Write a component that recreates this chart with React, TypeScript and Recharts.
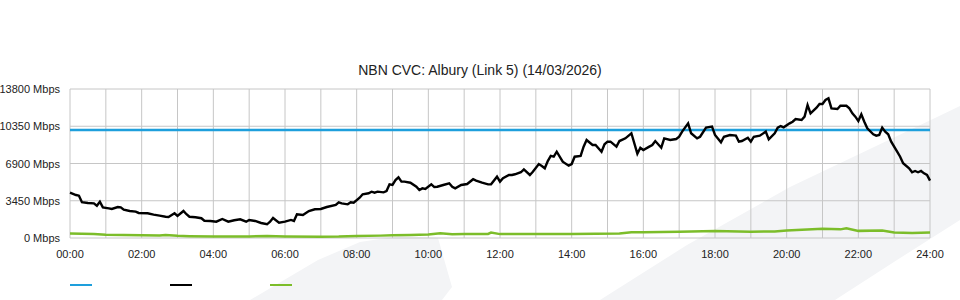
import React from 'react';
import { LineChart, Line, XAxis, YAxis, CartesianGrid } from 'recharts';

// minutes since midnight -> Mbps
const demandMinutes = [
  0, 10, 15, 20, 30, 40, 45, 50, 55, 65, 70, 80, 85, 90, 100, 110, 115, 130, 140, 150,
  160, 165, 175, 180, 190, 195, 200, 210, 220, 225, 235, 245, 255, 265, 275, 285, 295, 300, 310, 320,
  330, 335, 340, 350, 360, 370, 375, 380, 390, 400, 410, 420, 430, 445, 450, 455, 465, 470, 475, 485,
  490, 500, 505, 510, 515, 525, 530, 535, 540, 545, 550, 555, 560, 570, 580, 585, 590, 595, 605, 610,
  615, 625, 635, 640, 645, 655, 665, 675, 680, 690, 700, 705, 715, 720, 725, 735, 740, 745, 755, 760,
  770, 775, 785, 790, 795, 800, 805, 810, 815, 825, 835, 840, 845, 855, 860, 865, 875, 880, 890, 895,
  900, 905, 915, 920, 930, 940, 950, 955, 960, 970, 975, 980, 990, 995, 1005, 1015, 1020, 1025, 1035, 1040,
  1050, 1055, 1065, 1075, 1080, 1090, 1095, 1105, 1115, 1120, 1125, 1135, 1140, 1145, 1155, 1165, 1170, 1180, 1185, 1190,
  1195, 1205, 1210, 1215, 1225, 1230, 1235, 1240, 1250, 1255, 1260, 1265, 1270, 1275, 1285, 1290, 1300, 1305, 1310, 1315,
  1320, 1325, 1330, 1335, 1345, 1350, 1355, 1360, 1365, 1370, 1375, 1385, 1390, 1395, 1405, 1410, 1415, 1420, 1425, 1430,
  1435, 1440,
];
const demandMbps = [
  4200, 3980, 3920, 3310, 3240, 3210, 2990, 3360, 2840, 2750, 2690, 2870, 2840, 2620, 2500, 2440, 2320, 2290, 2160, 2070,
  1970, 1950, 2290, 2040, 2500, 2200, 1970, 1920, 1830, 1600, 1580, 1510, 1760, 1510, 1640, 1730, 1510, 1670, 1580, 1390,
  1270, 1510, 1850, 1420, 1510, 1670, 1580, 2200, 2130, 2500, 2660, 2690, 2870, 3060, 3310, 3210, 3120, 3310, 3270, 3730,
  4050, 4140, 4290, 4200, 4290, 4230, 4350, 4970, 4910, 5370, 5620, 5220, 5220, 5120, 4750, 4450, 4600, 4540, 4970, 4720,
  4750, 4910, 5070, 4750, 4600, 4910, 5000, 5440, 5310, 5120, 4970, 4970, 5680, 5220, 5530, 5840, 5840, 5900, 6090, 6360,
  5840, 6140, 6850, 6670, 6460, 7130, 7600, 7530, 7990, 7070, 6700, 6850, 7530, 7600, 8460, 9080, 8610, 8610, 7990, 8680,
  8920, 8920, 8460, 8980, 9230, 9700, 7810, 8360, 8150, 8460, 8610, 8980, 8360, 9230, 9080, 9170, 9380, 9850, 10620, 9700,
  9230, 9380, 10220, 10310, 9540, 8860, 9380, 9540, 9480, 8920, 8980, 9290, 8920, 9380, 9480, 9850, 9140, 9700, 10220, 10370,
  10250, 10620, 10770, 11020, 10930, 11240, 12320, 11550, 12070, 12410, 12410, 12780, 12940, 12010, 11950, 12250, 12250, 12010, 11550, 11240,
  10840, 11460, 10770, 10160, 9610, 9480, 9540, 10220, 9850, 9610, 8920, 7990, 7530, 6920, 6460, 6090, 6210, 6090, 6210, 5990,
  5840, 5310,
];

const uploadMinutes = [
  0, 20, 40, 60, 90, 120, 150, 160, 180, 200, 240, 300, 330, 360, 420, 450, 480, 520, 540, 570,
  600, 620, 640, 660, 700, 705, 720, 780, 840, 880, 920, 940, 960, 1020, 1080, 1140, 1180, 1200, 1260, 1290,
  1300, 1320, 1360, 1380, 1410, 1440,
];
const uploadMbps = [
  420, 400, 370, 300, 280, 250, 230, 280, 200, 170, 150, 150, 180, 140, 120, 130, 180, 220, 260, 280,
  320, 440, 340, 360, 370, 500, 360, 360, 380, 400, 420, 530, 540, 580, 640, 590, 600, 700, 860, 800,
  900, 660, 700, 500, 460, 500,
];

const capacityMinutes = [0, 1440];
const capacityMbps = [10000, 10000];

const hourTicks = [
  0, 60, 120, 180, 240, 300, 360, 420, 480, 540, 600, 660, 720, 780, 840, 900, 960, 1020, 1080, 1140,
  1200, 1260, 1320, 1380, 1440,
];
const yTicks = [0, 3450, 6900, 10350, 13800];

const demandData = demandMinutes.map((m, i) => ({ t: m, v: demandMbps[i] }));
const uploadData = uploadMinutes.map((m, i) => ({ t: m, v: uploadMbps[i] }));
const capacityData = capacityMinutes.map((m, i) => ({ t: m, v: capacityMbps[i] }));

const FONT = '"Liberation Sans", Arial, sans-serif';

const fmtTime = (m: number) => {
  if (m % 120 !== 0) return '';
  const h = m / 60;
  return `${h < 10 ? '0' : ''}${h}:00`;
};

// plain text tick so "13800 Mbps" doesn't get wrapped
const YTick = ({ x, y, payload }: any) => (
  <text x={x} y={y} dy={4} textAnchor="end" fill="#222" fontSize={11} fontFamily={FONT}>
    {`${payload.value} Mbps`}
  </text>
);

const App: React.FC = () => {
  return (
    <div style={{ position: 'absolute', left: 0, top: 0, width: 960, height: 300, fontFamily: FONT }}>
      {/* faint background swoosh */}
      <svg width={960} height={300} style={{ position: 'absolute', left: 0, top: 0 }}>
        <polygon points="250,300 318,260 360,242 400,236 438,238 452,287 442,300" fill="#f3f4f6" />
        <polygon points="600,300 687,245 790,187 935,118 960,106 960,220 897,260 835,300" fill="#f3f4f6" />
      </svg>

      <div
        style={{
          position: 'absolute', left: 0, top: 62, width: 960, textAlign: 'center',
          fontSize: 14, lineHeight: '16px', color: '#222',
        }}
      >
        NBN CVC: Albury (Link 5) (14/03/2026)
      </div>

      <div style={{ position: 'absolute', left: 0, top: 0 }}>
        <LineChart width={960} height={300} data={demandData} margin={{ top: 89, right: 30, bottom: 32, left: 8 }}>
          <CartesianGrid stroke="#c6c6c6" />
          <XAxis
            dataKey="t"
            type="number"
            domain={[0, 1440]}
            ticks={hourTicks}
            interval={0}
            tickFormatter={fmtTime}
            axisLine={false}
            tickLine={false}
            tickMargin={6}
            height={30}
            tick={{ fill: '#222', fontSize: 11, fontFamily: FONT }}
          />
          <YAxis
            type="number"
            domain={[0, 13800]}
            ticks={yTicks}
            interval={0}
            axisLine={false}
            tickLine={false}
            tickMargin={4}
            width={62}
            tick={<YTick />}
          />
          <Line data={capacityData} dataKey="v" stroke="#1e9fdc" strokeWidth={2.5} dot={false} isAnimationActive={false} />
          <Line data={uploadData} dataKey="v" stroke="#7cbd2a" strokeWidth={2.5} dot={false} isAnimationActive={false} />
          <Line data={demandData} dataKey="v" stroke="#000" strokeWidth={2.4} dot={false} isAnimationActive={false} />
        </LineChart>
      </div>

      {/* legend swatches, no labels */}
      {['#1e9fdc', '#000', '#7cbd2a'].map((c, i) => (
        <div
          key={c}
          style={{ position: 'absolute', left: 70 + i * 100, top: 284, width: 22, height: 2, background: c }}
        />
      ))}
    </div>
  );
};

export default App;
